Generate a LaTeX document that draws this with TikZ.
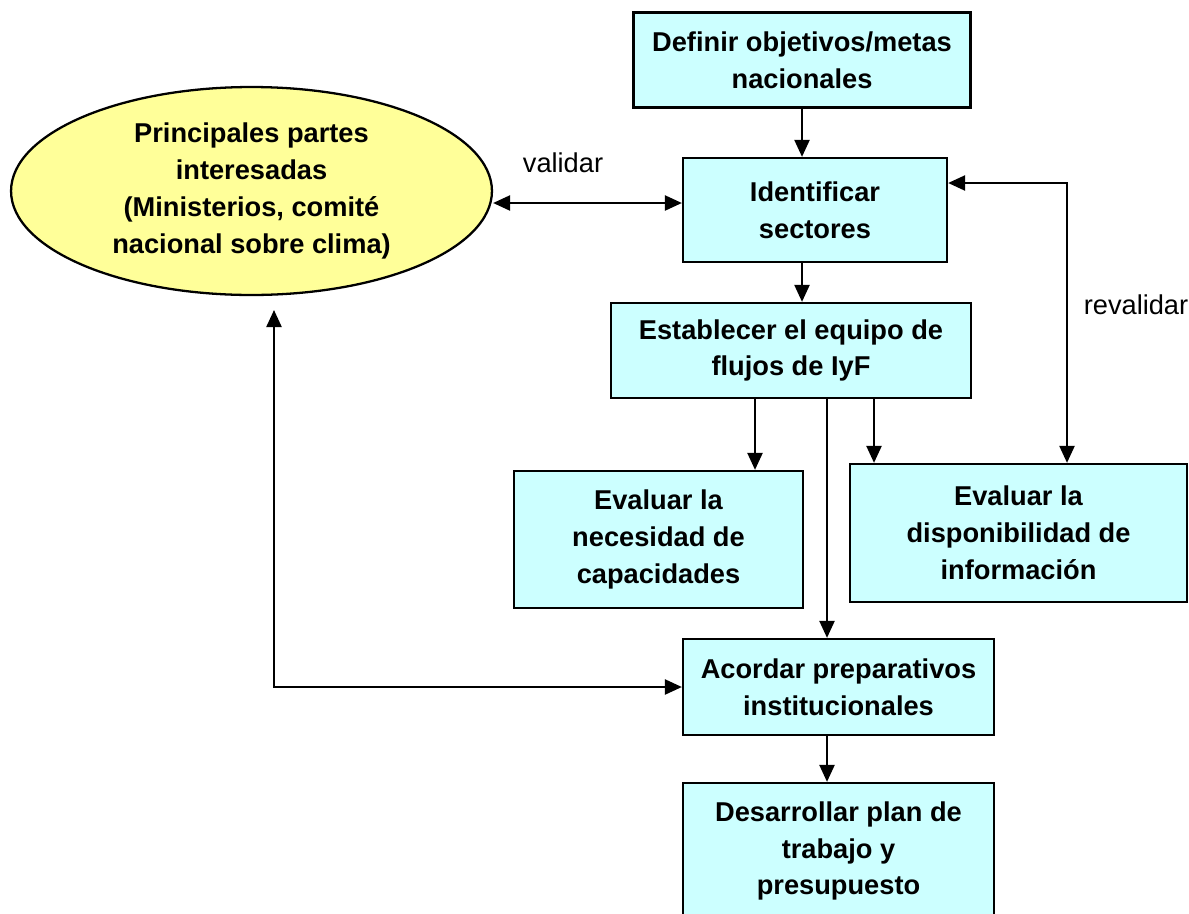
\documentclass[tikz,border=0pt]{standalone}
\usepackage{fontspec}
\setmainfont{Liberation Sans}
\usepackage{xcolor}
\usetikzlibrary{arrows.meta,shapes.geometric}

\definecolor{boxcyan}{HTML}{CCFFFF}
\definecolor{ellyellow}{HTML}{FFFF99}

\begin{document}
\begin{tikzpicture}[x=0.02cm,y=-0.02cm,
    paso/.style={draw,line width=1.3pt,fill=boxcyan,align=center,inner sep=0pt,
      font=\bfseries\fontsize{15.5}{21}\selectfont},
    flecha/.style={line width=1.3pt,-{Triangle[length=0.34cm,width=0.3cm]}},
    doble/.style={line width=1.3pt,{Triangle[length=0.34cm,width=0.3cm]}-{Triangle[length=0.34cm,width=0.3cm]}},
    etiq/.style={font=\fontsize{15.5}{21}\selectfont}]
      \path [use as bounding box,clip] (0,0) rectangle (1189,913);
      \coordinate (ca) at (802,0);
      \coordinate (cn) at (755,0);
      \coordinate (cm) at (827,0);
      \coordinate (cd) at (874,0);
      \coordinate (rv) at (1067,183);
      \coordinate (vl) at (0,203);
      \coordinate (pi) at (274,310);
      \node [paso,minimum width=6.74cm,minimum height=1.9cm] (def) at (802,60) {Definir objetivos/metas\\nacionales};
      \node [paso,minimum width=5.28cm,minimum height=2.08cm] (ide) at (815,210) {Identificar\\sectores};
      \node [paso,minimum width=7.2cm,minimum height=1.9cm] (est) at (791,350.5) {Establecer el equipo de\\flujos de IyF};
      \node [paso,minimum width=5.78cm,minimum height=2.74cm] (nec) at (658.5,539.5) {Evaluar la\\necesidad de\\capacidades};
      \node [paso,minimum width=6.74cm,minimum height=2.76cm] (dis) at (1018.5,533) {Evaluar la\\disponibilidad de\\información};
      \node [paso,minimum width=6.22cm,minimum height=1.92cm] (aco) at (838.5,687) {Acordar preparativos\\institucionales};
      \node [paso,minimum width=6.22cm,minimum height=2.72cm] (des) at (838.5,851) {Desarrollar plan de\\trabajo y\\presupuesto};
      \node [paso,ellipse,fill=ellyellow,minimum width=9.62cm,minimum height=4.16cm] (ell) at (251.5,191) {Principales partes\\interesadas\\(Ministerios, comité\\nacional sobre clima)};
      \node [etiq] (val) at (563,163) {validar};
      \node [etiq] (rev) at (1136,305) {revalidar};
      \draw [flecha] (def.south -| ca) -- (ide.north -| ca);
      \draw [flecha] (ide.south -| ca) -- (est.north -| ca);
      \draw [flecha] (est.south -| cn) -- (nec.north -| cn);
      \draw [flecha] (est.south -| cd) -- (dis.north -| cd);
      \draw [flecha] (est.south -| cm) -- (aco.north -| cm);
      \draw [flecha] (aco.south -| cm) -- (des.north -| cm);
      \draw [doble] (ell.east |- vl) -- (ide.west |- vl);
      \draw [doble] (ide.east |- rv) -- (rv) -- (dis.north -| rv);
      \draw [doble] (pi) |- (aco.west);
\end{tikzpicture}
\end{document}
